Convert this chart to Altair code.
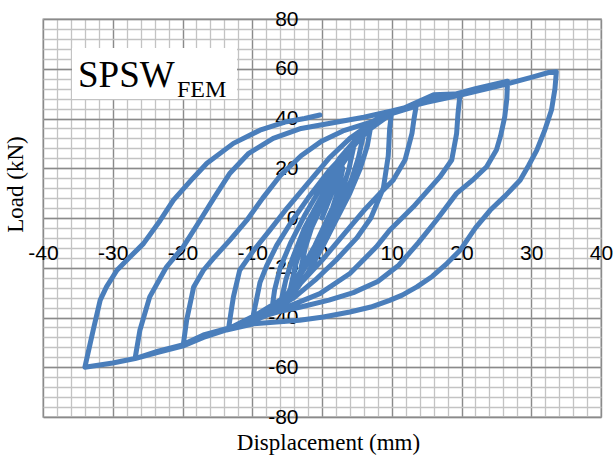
import altair as alt
import pandas as pd

# Hysteresis path (displacement mm, load kN), in loading order
disp = [0, 1, 2, 3,
        2.4, 1.5, 0, -1, -2, -3,
        -2.4, -1.5, 0, 1.5, 3, 4.5,
        3.8, 3, 1.5, 0, -1.5, -3, -4.5,
        -3.8, -3, -1.5, 0, 1.5, 3, 4.5,
        3.9, 3.1, 1.6, 0, -1.5, -3, -4.5,
        -3.8, -3, -1.5, 0, 2, 4, 6,
        5.2, 4.2, 2.5, 0, -2, -4, -6,
        -5.2, -4.2, -2.5, 0, 2, 4, 6,
        5.3, 4.3, 2.6, 0, -2, -4, -6,
        -5.2, -4.2, -2.5, 0, 2.5, 5, 7,
        6.5, 5.5, 4, 2, 0, -2, -4, -6, -7.2,
        -6.8, -6, -4.5, -2.5, 0, 2.5, 5, 7.5, 10,
        9.7, 9.5, 8.8, 7, 5, 2, -1, -4, -7, -10,
        -9.4, -8.9, -7.9, -6.5, -4.5, -2, 1, 4, 7, 10, 13.5,
        13.2, 12.9, 11.9, 10.2, 8.3, 6, 3, 0, -3, -6, -9.5, -13.4,
        -13, -12.7, -11.8, -9.8, -7.5, -5, -2, 1, 4, 7, 10, 14, 16, 19.8,
        19.5, 19.3, 18.6, 16.9, 13.1, 9.7, 7.8, 4, -0.3, -3.2, -6.5, -10, -13.5, -17, -19.9,
        -19.4, -18.4, -17, -15.6, -13.2, -10.8, -8.5, -6, -3, 0, 3, 7, 10, 14, 18, 22, 26.6,
        26.5, 26.2, 25.6, 25, 23.6, 21.5, 19.3, 16.4, 13.8, 11, 8, 4.5, 1, -3.2, -6, -8.5, -10, -13.7, -17, -20, -23.5, -26.8,
        -26.1, -24.7, -22.3, -19.9, -17.5, -15.5, -13.2, -10.5, -7, -3, 2, 6, 10, 15, 20, 26, 30, 32.5, 33.6,
        33.4, 32.9, 31.9, 30.8, 29.6, 28.4, 26.3, 24.1, 22, 19.8, 17.9, 15.8, 13.6, 11.5, 9.7, 7, 4, 0.2, -3.2, -6.5, -9.8, -13.7, -17, -20, -23.5, -26.8, -30, -34,
        -33.2, -32.8, -31.8, -30.9, -29.4, -27.5, -25.6, -23.2, -21.3, -18.5, -16.5, -12.7, -8.9, -5.1, -2.5, -0.3]
load = [0, 7, 14, 20,
        12, 4, -5, -11, -16, -20,
        -12, -4, 5, 14, 22, 28,
        19, 12, 2, -8, -15, -22, -28,
        -19, -12, -2, 8, 16, 23, 28.5,
        20, 13, 3, -7, -14, -21, -28.5,
        -19, -12, -2, 8, 18, 27, 34,
        24, 15, 4, -9, -18, -27, -35,
        -25, -16, -4, 9, 19, 28, 34.5,
        25, 16, 5, -8, -17, -26, -35.5,
        -25, -16, -4, 9, 21, 31, 37,
        29, 20, 10, -1, -12, -22, -30, -35, -37,
        -29, -20, -10, 1, 13, 24, 32, 38, 43,
        36, 25, 12, 0, -8, -17, -25, -32, -37, -41,
        -33, -26, -19, -11, -2, 8, 19, 28, 36, 42, 45,
        40, 34, 23.3, 15.2, 9.9, 3, -7, -17, -26, -33, -39, -44.5,
        -37, -31.7, -21, -13, -5, 4, 14, 24, 32, 38, 42, 47, 49.5, 50,
        42, 34, 23.3, 16.5, 4.5, -4.9, -11.6, -22.3, -30.4, -33.7, -37.5, -41.5, -44.5, -47.5, -51.2,
        -41, -27.7, -21, -16.3, -8.9, -1, 8, 17, 25, 31, 35, 38.5, 42.5, 46, 49, 52, 55,
        48, 40.7, 33, 27.3, 20.6, 15, 9.9, -0.9, -10, -19, -25.5, -30, -33, -35.9, -37.5, -39.5, -41.5, -44.5, -47, -51, -53.5, -56.5,
        -45, -31.7, -19.7, -11.6, -1, 8, 18, 26, 32, 36, 38.5, 40.5, 43, 46.5, 49.5, 53.5, 56.5, 58.5, 58.8,
        52, 43.4, 35, 27.3, 21, 15.2, 9, 3.1, -4, -13, -18.3, -23.5, -27.7, -31, -33.1, -35.8, -37.8, -39.8, -41.1, -41.8, -42.5, -45, -48, -51.5, -54, -56.5, -58.3, -60,
        -50, -45, -33, -27.7, -21, -15.6, -10.3, -1, 7.2, 16, 22, 30, 35.3, 38.7, 40, 41.4]

x_major = list(range(-40, 41, 10))
x_minor = list(range(-40, 41, 2))
y_major = list(range(-80, 81, 20))
y_minor = list(range(-80, 81, 4))

label_main = ["SPSW"]
label_sub = ["FEM"]

df = pd.DataFrame({"d": disp, "f": load, "i": list(range(len(disp)))})

W, H = 558, 398
xs = alt.Scale(domain=[-40, 40], nice=False, zero=False)
ys = alt.Scale(domain=[-80, 80], nice=False, zero=False)

def grid_axis(vals, color, orient):
    return alt.Axis(values=vals, grid=True, gridColor=color, gridWidth=1.3, gridOpacity=1,
                    labels=False, ticks=False, domain=False, title=None, orient=orient)

minor = alt.Chart(df).mark_point(opacity=0).encode(
    x=alt.X("d:Q", scale=xs, axis=grid_axis(x_minor, "#c3c3c3", "bottom")),
    y=alt.Y("f:Q", scale=ys, axis=grid_axis(y_minor, "#c3c3c3", "left")),
)
major = alt.Chart(df).mark_point(opacity=0).encode(
    x=alt.X("d:Q", scale=xs, axis=grid_axis(x_major, "#8a8a8a", "bottom")),
    y=alt.Y("f:Q", scale=ys, axis=grid_axis(y_major, "#8a8a8a", "left")),
)

box = alt.Chart(pd.DataFrame({"t": label_main})).mark_rect(fill="white").encode(
    x=alt.value(29), x2=alt.value(194), y=alt.value(29), y2=alt.value(80))
txt_main = alt.Chart(pd.DataFrame({"t": label_main})).mark_text(
    font="Liberation Serif", fontSize=37, align="left", baseline="alphabetic", color="black"
).encode(x=alt.value(35), y=alt.value(68), text="t:N")
txt_sub = alt.Chart(pd.DataFrame({"t": label_sub})).mark_text(
    font="Liberation Serif", fontSize=24, align="left", baseline="alphabetic", color="black"
).encode(x=alt.value(134), y=alt.value(78), text="t:N")

line = alt.Chart(df).mark_line(color="#4a7ebb", strokeWidth=5, strokeJoin="round", strokeCap="round").encode(
    x=alt.X("d:Q", scale=xs, axis=alt.Axis(
        values=x_major, grid=False, ticks=False, domain=False, orient="bottom", offset=-199,
        labelPadding=24, labelFlush=False, labelOverlap=False, labelFont="Liberation Sans",
        labelFontSize=21, labelColor="black", labelExpr="datum.value + ''",
        title="Displacement (mm)", titleFont="Liberation Serif", titleFontSize=23,
        titleFontWeight="normal", titleColor="black", titleX=285, titleY=231,
        titleBaseline="alphabetic")),
    y=alt.Y("f:Q", scale=ys, axis=alt.Axis(
        values=y_major, grid=False, ticks=False, domain=False, orient="left", offset=-279,
        labelPadding=24, labelOverlap=False, labelFont="Liberation Sans", labelFontSize=21,
        labelColor="black", labelExpr="datum.value + ''",
        title="Load (kN)", titleFont="Liberation Serif", titleFontSize=23,
        titleFontWeight="normal", titleColor="black", titleX=-307, titleY=165,
        titleBaseline="middle")),
    order="i:Q",
)

chart = alt.layer(minor, major, box, txt_main, txt_sub, line).resolve_axis(
    x="independent", y="independent"
).properties(
    width=W, height=H, autosize=alt.AutoSizeParams(type="none"),
    padding={"left": 43, "top": 19, "right": 14, "bottom": 44}
).configure_view(stroke="#8a8a8a", strokeWidth=1.3)

chart.save("out.html", embed_options={"renderer": "svg", "actions": False})
